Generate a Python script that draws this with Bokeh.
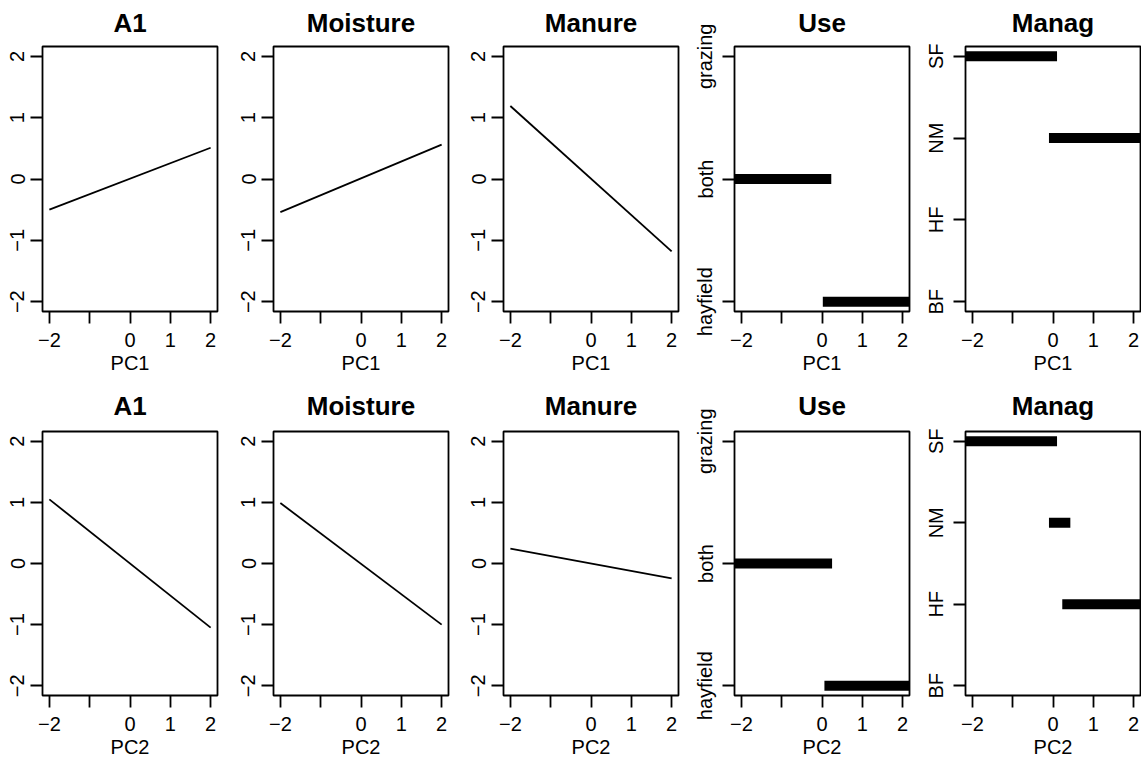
from bokeh.plotting import figure
from bokeh.layouts import row, column
from bokeh.models import Range1d, FixedTicker
from bokeh.embed import file_html
from bokeh.resources import INLINE

# ---------------- data ----------------
pc_names = ["PC1", "PC2"]
cont_names = ["A1", "Moisture", "Manure"]
line_x = [-2.0, 2.0]

# fitted partial effects (value at x=-2 and x=2)
pc1_A1 = [-0.50, 0.51]
pc1_Moisture = [-0.54, 0.56]
pc1_Manure = [1.19, -1.18]
pc2_A1 = [1.05, -1.05]
pc2_Moisture = [0.99, -1.00]
pc2_Manure = [0.245, -0.245]

x_ticks = [-2, -1, 0, 1, 2]
x_tick_labels = ["\u22122", "", "0", "1", "2"]
y_ticks = [-2, -1, 0, 1, 2]
y_tick_labels = ["\u22122", "\u22121", "0", "1", "2"]

use_levels = ["hayfield", "both", "grazing"]
manag_levels = ["BF", "HF", "NM", "SF"]

# factor panels: level, start, end
pc1_use_level = ["both", "hayfield"]
pc1_use_from = [-2.17, 0.02]
pc1_use_to = [0.23, 2.17]
pc2_use_level = ["both", "hayfield"]
pc2_use_from = [-2.17, 0.06]
pc2_use_to = [0.25, 2.17]

pc1_manag_level = ["SF", "NM"]
pc1_manag_from = [-2.17, -0.10]
pc1_manag_to = [0.10, 2.17]
pc2_manag_level = ["SF", "NM", "HF"]
pc2_manag_from = [-2.17, -0.10, 0.23]
pc2_manag_to = [0.10, 0.43, 2.17]

x_lim = (-2.17, 2.17)
y_lim = (-2.16, 2.16)

cont_data = {
    "PC1": {"A1": pc1_A1, "Moisture": pc1_Moisture, "Manure": pc1_Manure},
    "PC2": {"A1": pc2_A1, "Moisture": pc2_Moisture, "Manure": pc2_Manure},
}
use_data = {
    "PC1": (pc1_use_level, pc1_use_from, pc1_use_to),
    "PC2": (pc2_use_level, pc2_use_from, pc2_use_to),
}
manag_data = {
    "PC1": (pc1_manag_level, pc1_manag_from, pc1_manag_to),
    "PC2": (pc2_manag_level, pc2_manag_from, pc2_manag_to),
}

# ---------------- layout ----------------
FONT = "Liberation Sans"
col_right = [14, 13, 13, 13, 3]
# (top border, frame height, bottom border, title standoff)
row_geom = [(45, 265, 70, 14), (50, 264, 64, 18)]


def make_fig(ci, ri, title, xlabel, yr):
    top, fh, bottom, tstand = row_geom[ri]
    p = figure(frame_width=175, frame_height=fh,
               min_border_left=42, min_border_right=col_right[ci],
               min_border_top=top, min_border_bottom=bottom,
               x_range=Range1d(*x_lim), y_range=Range1d(*yr),
               output_backend="svg", toolbar_location=None,
               background_fill_color="white", border_fill_color="white")
    p.title.text = title
    p.title.text_font = FONT
    p.title.text_font_size = "26px"
    p.title.text_font_style = "bold"
    p.title.text_color = "black"
    p.title.align = "center"
    p.title.vertical_align = "top"
    p.title.standoff = tstand
    p.xgrid.visible = False
    p.ygrid.visible = False
    p.outline_line_color = "black"
    p.outline_line_width = 1.8
    p.outline_line_alpha = 1.0
    for ax in (p.xaxis[0], p.yaxis[0]):
        ax.axis_line_color = None
        ax.major_tick_line_color = "black"
        ax.major_tick_line_width = 1.8
        ax.major_tick_out = 12
        ax.major_tick_in = 0
        ax.minor_tick_line_color = None
        ax.major_label_text_font = FONT
        ax.major_label_text_font_size = "20px"
        ax.major_label_text_color = "black"
    xa = p.xaxis[0]
    xa.ticker = FixedTicker(ticks=x_ticks)
    xa.major_label_overrides = {t: l for t, l in zip(x_ticks, x_tick_labels)}
    xa.major_label_standoff = 9
    xa.axis_label = xlabel
    xa.axis_label_text_font = FONT
    xa.axis_label_text_font_size = "20px"
    xa.axis_label_text_font_style = "normal"
    xa.axis_label_text_color = "black"
    xa.axis_label_standoff = 2
    p.yaxis[0].major_label_orientation = "vertical"
    p.yaxis[0].major_label_standoff = 6
    return p


rows = []
for ri, pc in enumerate(pc_names):
    figs = []
    for ci, name in enumerate(cont_names):
        p = make_fig(ci, ri, name, pc, y_lim)
        p.yaxis[0].ticker = FixedTicker(ticks=y_ticks)
        p.yaxis[0].major_label_overrides = {t: l for t, l in zip(y_ticks, y_tick_labels)}
        p.line(line_x, cont_data[pc][name], line_color="black", line_width=1.8)
        figs.append(p)

    # Use panel
    n = len(use_levels)
    pad = 0.04 * (n - 1)
    p = make_fig(3, ri, "Use", pc, (1 - pad, n + pad))
    pos = {lv: i + 1 for i, lv in enumerate(use_levels)}
    p.yaxis[0].ticker = FixedTicker(ticks=list(pos.values()))
    p.yaxis[0].major_label_overrides = {v: k for k, v in pos.items()}
    lv, x0, x1 = use_data[pc]
    ys = [pos[l] for l in lv]
    p.segment(x0=x0, y0=ys, x1=x1, y1=ys, line_color="black", line_width=10, line_cap="butt")
    figs.append(p)

    # Manag panel
    n = len(manag_levels)
    pad = 0.04 * (n - 1)
    p = make_fig(4, ri, "Manag", pc, (1 - pad, n + pad))
    pos = {lv: i + 1 for i, lv in enumerate(manag_levels)}
    p.yaxis[0].ticker = FixedTicker(ticks=list(pos.values()))
    p.yaxis[0].major_label_overrides = {v: k for k, v in pos.items()}
    lv, x0, x1 = manag_data[pc]
    ys = [pos[l] for l in lv]
    p.segment(x0=x0, y0=ys, x1=x1, y1=ys, line_color="black", line_width=10, line_cap="butt")
    figs.append(p)

    rows.append(row(*figs, spacing=0))

layout = column(*rows, spacing=0)
open("out.html", "w").write(file_html(layout, INLINE))
